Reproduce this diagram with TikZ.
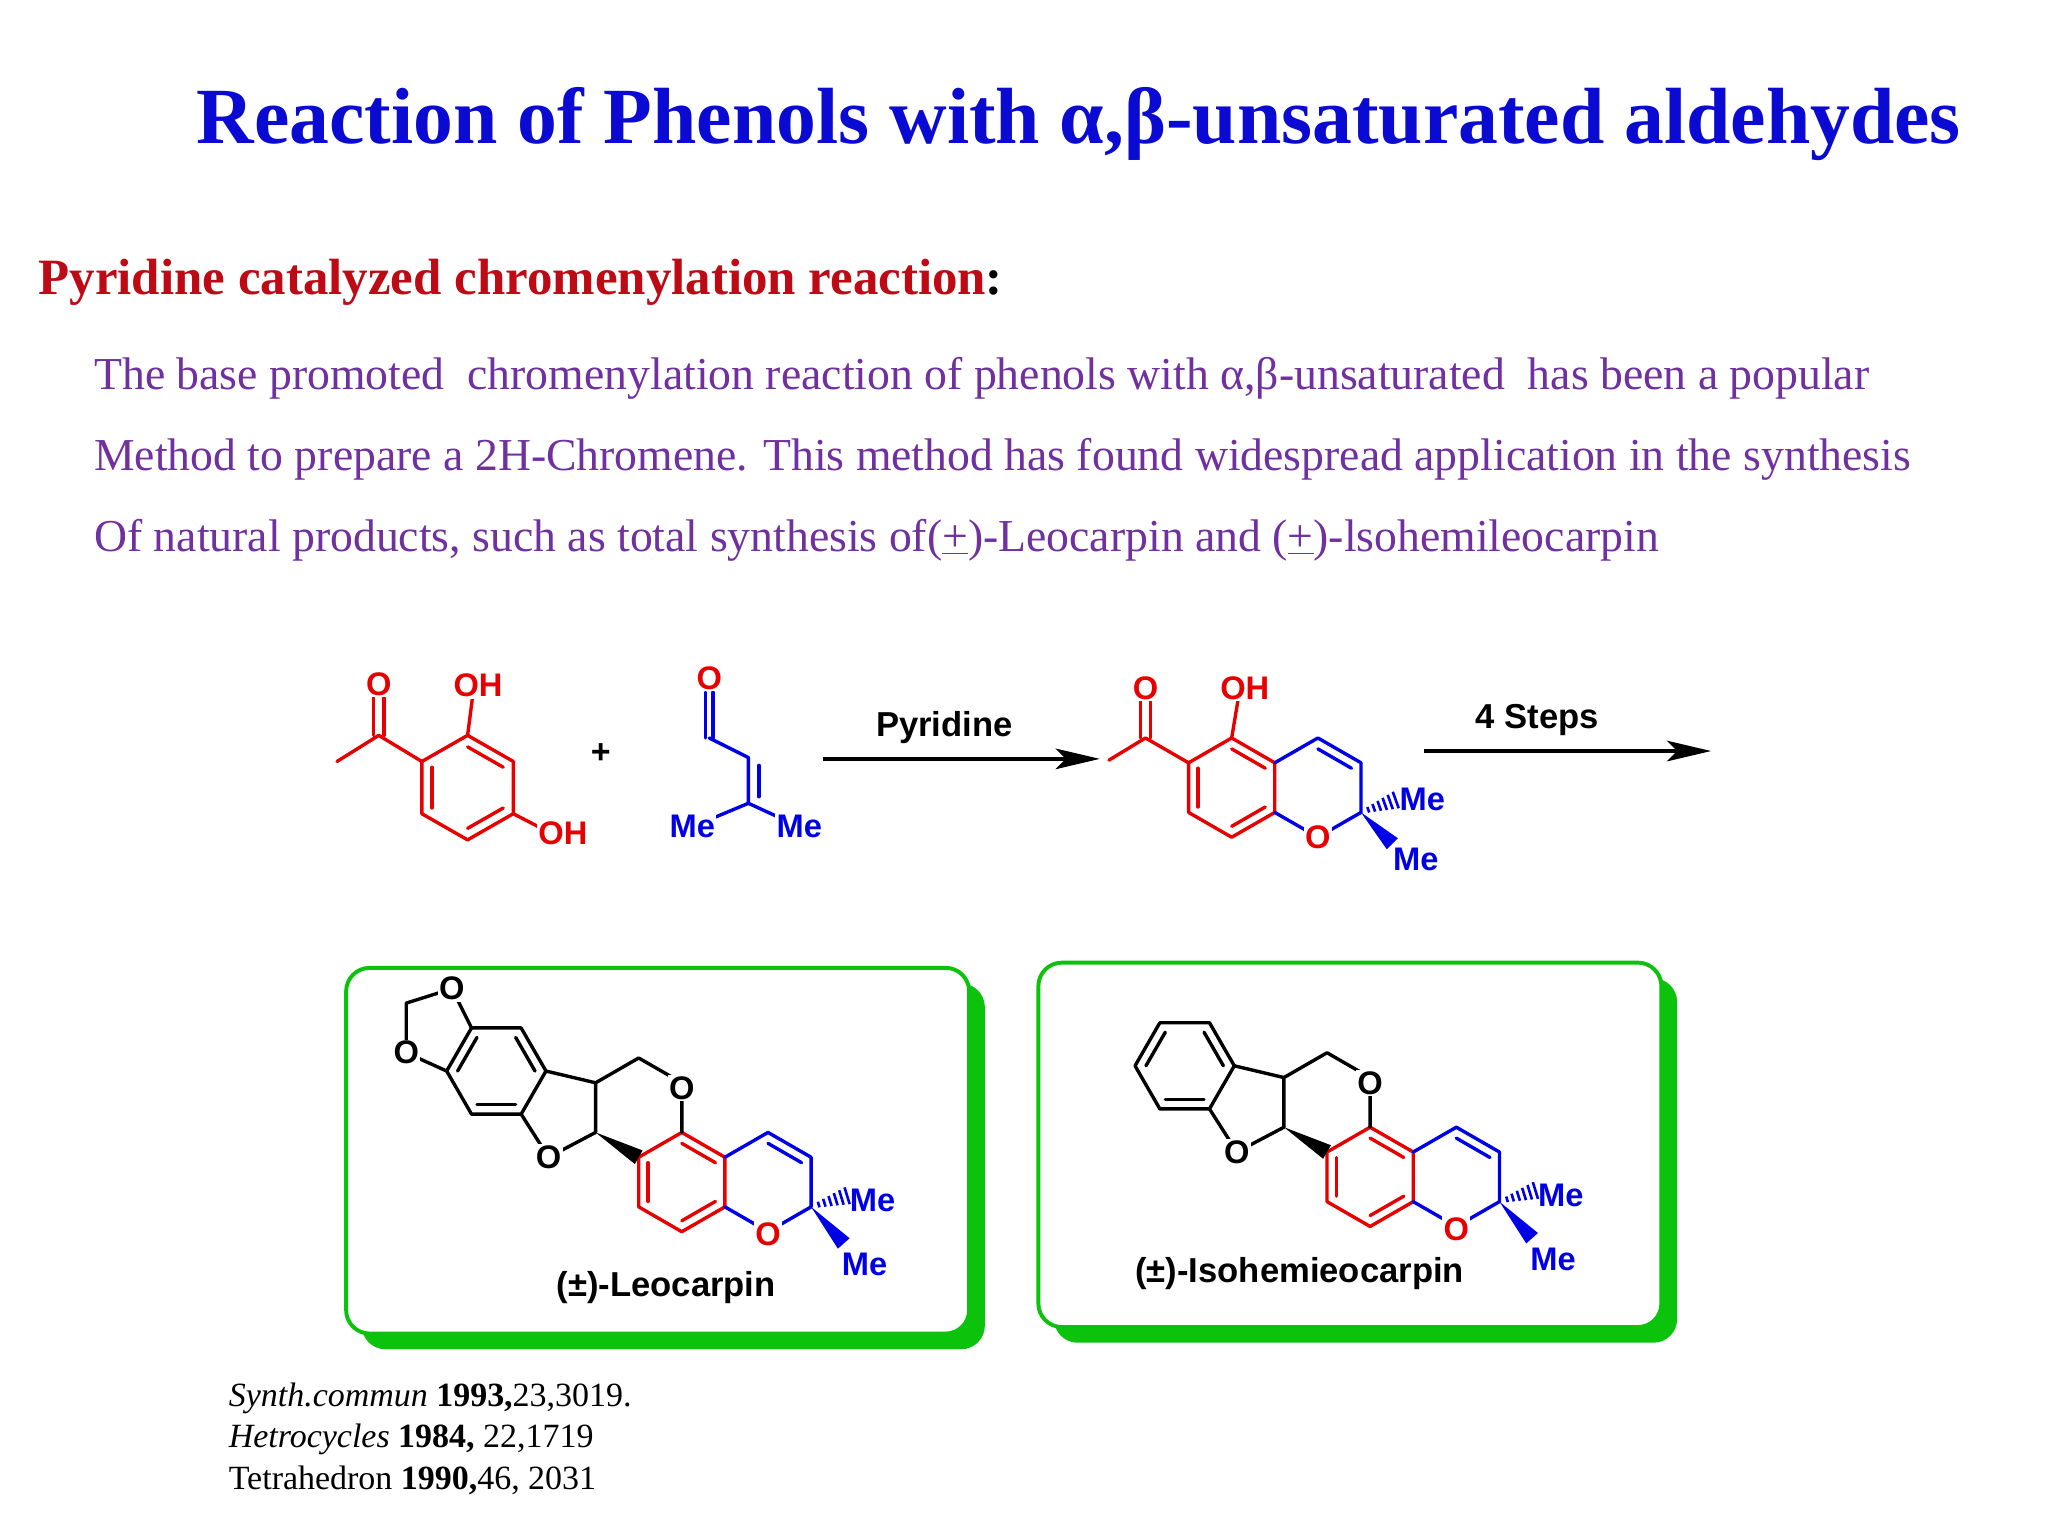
\documentclass[tikz,border=0pt]{standalone}
\usepackage{fontspec}
\setmainfont{Liberation Serif}
\newfontfamily\chemf{Liberation Sans}
\usetikzlibrary{calc,arrows.meta}
\definecolor{ttl}{RGB}{10,10,210}
\definecolor{hd}{RGB}{190,10,20}
\definecolor{pur}{RGB}{112,48,160}
\definecolor{gr}{RGB}{10,195,10}
\definecolor{rr}{RGB}{230,0,0}
\definecolor{bb}{RGB}{0,0,230}
\tikzset{bd/.style={line width=2.6pt,line cap=round,line join=round},
 lab/.style={font=\chemf\bfseries\fontsize{25}{25}\selectfont,fill=white,inner sep=1pt},
 lab0/.style={font=\chemf\bfseries\fontsize{25}{25}\selectfont,inner sep=1pt},
 txtlab/.style={font=\chemf\bfseries\fontsize{26.5}{26}\selectfont,inner sep=1pt},
 boxst/.style={draw=gr,line width=3pt,rounded corners=18pt,fill=white}}
\newcommand\ib[4][black]{\draw[bd,#1] ($#2!0.22!#4$) -- ($#3!0.22!#4$);}
\newcommand\hashw[2]{\foreach \t in {0.2,0.35,0.5,0.65,0.8,0.95}{\pgfmathsetmacro\hw{1+6*\t}\draw[bb,line width=2pt] ($#1!\t!#2!\hw pt!90:#2$) -- ($#1!\t!#2!\hw pt!-90:#2$);}}
\newcommand\solw[3][bb]{\fill[#1] #2 -- ($#3!6pt!90:#2$) -- ($#3!6pt!-90:#2$) -- cycle;}
\newcommand\coremol[2]{%
\begin{scope}[shift={#1}]
 \draw[bd,rr] (522,867)--(555,886)--(555,924)--(522,943)--(489,924)--(489,886)--cycle;
 \ib[rr]{(522,867)}{(555,886)}{(522,905)}\ib[rr]{(555,924)}{(522,943)}{(522,905)}\ib[rr]{(489,924)}{(489,886)}{(522,905)}
 \draw[bd,bb] (555,886)--(588,867)--(621,886)--(621,924)--(588,943)--(555,924);
 \ib[bb]{(588,867)}{(621,886)}{(588,905)}
 \draw[bd] (522,867)--(522,829)--(489,810)--(456,829)--(456,867);
 \solw[black]{(456,867)}{(489,886)}
 \draw[bd] (456,829)--(418,820);
 \draw[bd] (399,853)--(420,886)--(456,867);
 \draw[bd] (418,820)--(399,853)--(361,853)--(342,820)--(361,787)--(399,787)--cycle;
 \ib{(399,787)}{(418,820)}{(380,820)}\ib{(399,853)}{(361,853)}{(380,820)}\ib{(342,820)}{(361,787)}{(380,820)}
 #2
 \hashw{(621,924)}{(650,915)}
 \solw{(621,924)}{(646,952)}
 \node[lab] at (522,833) {O};
 \node[lab] at (420,886) {O};
 \node[lab,text=rr] at (588,945) {O};
 \node[lab0,text=bb] at (668,919) {Me};
 \node[lab0,text=bb] at (662,968) {Me};
\end{scope}}
\begin{document}
\begin{tikzpicture}[x=1pt,y=-1pt]
\useasboundingbox (0,0) rectangle (1568,1176);
\fill[white] (0,0) rectangle (1568,1176);
\node[anchor=center,text=ttl,font=\bfseries\fontsize{61}{61}\selectfont] (title) at (826,95) {Reaction of Phenols with α,β-unsaturated aldehydes};
\node[anchor=west,font=\bfseries\fontsize{39}{39}\selectfont] (head) at (26,216) {\textcolor{hd}{Pyridine catalyzed chromenylation reaction}:};
\begin{scope}[every node/.style={anchor=west,text=pur,font=\fontsize{35}{35}\selectfont,inner sep=0pt}]
\node (l1) at (72,290) {The base promoted\ \ chromenylation reaction of phenols with α,β-unsaturated\ \ has been a popular};
\node (l2) at (72,352) {Method to prepare a 2H-Chromene. This method has found widespread application in the synthesis};
\node (l3) at (72,414) {Of natural products, such as total synthesis of(\underline{+})-Leocarpin and (\underline{+})-lsohemileocarpin};
\end{scope}
% reactant 1
\draw[bd,rr] (358,563)--(393,583)--(393,623)--(358,643)--(323,623)--(323,583)--cycle;
\ib[rr]{(358,563)}{(393,583)}{(358,603)}\ib[rr]{(393,623)}{(358,643)}{(358,603)}\ib[rr]{(323,623)}{(323,583)}{(358,603)}
\draw[bd,rr] (323,583)--(290,563)--(258,583);
\draw[bd,rr] (286,563)--(286,532) (294,563)--(294,532);
\draw[bd,rr] (358,563)--(362,532);
\draw[bd,rr] (393,623)--(422,638);
\node[lab,text=rr] at (290,524) {O};
\node[lab,text=rr] at (366,525) {OH};
\node[lab,text=rr] at (431,638) {OH};
\node[font=\chemf\bfseries\fontsize{26}{26}\selectfont] (plus) at (460,577) {+};
% prenal
\draw[bd,bb] (540,530)--(540,565) (546,530)--(546,565);
\draw[bd,bb] (543,565)--(573,580)--(573,615)--(530,633);
\draw[bd,bb] (581,586)--(581,610);
\draw[bd,bb] (573,615)--(612,633);
\node[lab,text=rr] at (543,519) {O};
\node[lab,text=bb] at (530,633) {Me};
\node[lab,text=bb] at (612,633) {Me};
% arrows
\coordinate (a1) at (630,581); \coordinate (a2) at (842,581);
\draw[line width=2.5pt] (a1)--($(a2)+(-20,0)$);
\fill (a2) -- ++(-34,-8) -- ++(8,8) -- ++(-8,8) -- cycle;
\node[txtlab] (p) at (723,557) {Pyridine};
\coordinate (b1) at (1090,575); \coordinate (b2) at (1310,575);
\draw[line width=2.5pt] (b1)--($(b2)+(-20,0)$);
\fill (b2) -- ++(-34,-8) -- ++(8,8) -- ++(-8,8) -- cycle;
\node[txtlab] (s) at (1177,551) {4 Steps};
% product
\draw[bd,rr] (943,565)--(976,584)--(976,622)--(943,641)--(910,622)--(910,584)--cycle;
\ib[rr]{(943,565)}{(976,584)}{(943,603)}\ib[rr]{(976,622)}{(943,641)}{(943,603)}\ib[rr]{(910,622)}{(910,584)}{(943,603)}
\draw[bd,bb] (976,584)--(1009,565)--(1042,584)--(1042,622)--(1009,641)--(976,622);
\ib[bb]{(1009,565)}{(1042,584)}{(1009,603)}
\draw[bd,rr] (910,584)--(877,565)--(849,582);
\draw[bd,rr] (873,565)--(873,534) (881,565)--(881,534);
\draw[bd,rr] (943,565)--(948,535);
\hashw{(1042,622)}{(1070,612)}
\solw{(1042,622)}{(1066,646)}
\node[lab,text=rr] at (877,527) {O};
\node[lab,text=rr] at (953,527) {OH};
\node[lab,text=rr] at (1009,641) {O};
\node[lab0,text=bb] at (1089,612) {Me};
\node[lab0,text=bb] at (1084,658) {Me};
% boxes
\fill[gr,rounded corners=18pt] (277,753) rectangle (754,1033);
\draw[boxst] (265,741) rectangle (742,1021);
\fill[gr,rounded corners=18pt] (807,749) rectangle (1284,1028);
\draw[boxst] (795,737) rectangle (1272,1016);
\coremol{(0,0)}{\draw[bd] (361,787)--(346,757)--(311,768)--(311,806)--(342,820);
 \node[lab] at (346,757) {O}; \node[lab] at (311,806) {O};}
\node[txtlab] (n1) at (510,986) {(±)-Leocarpin};
\coremol{(527,-4)}{}
\node[txtlab] (n2) at (995,975) {(±)-Isohemieocarpin};
\begin{scope}[every node/.style={anchor=west,font=\fontsize{26}{26}\selectfont,inner sep=0pt}]
\node (r1) at (175,1071) {\textit{Synth.commun} \textbf{1993,}23,3019.};
\node (r2) at (175,1102) {\textit{Hetrocycles} \textbf{1984,} 22,1719};
\node (r3) at (175,1133) {Tetrahedron \textbf{1990,}46, 2031};
\end{scope}
\end{tikzpicture}
\end{document}
